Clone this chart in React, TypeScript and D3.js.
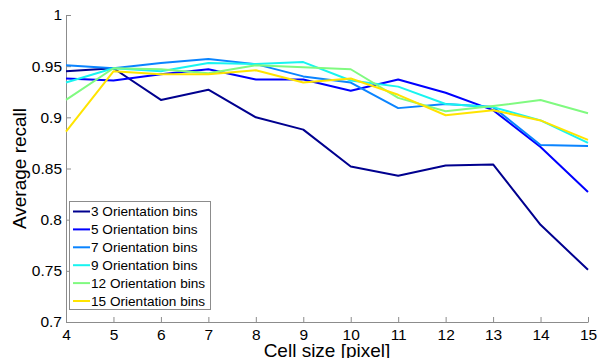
import React, { useEffect, useRef } from "react";
import * as d3 from "d3";

// cell sizes (x axis)
const cellSizes = [4, 5, 6, 7, 8, 9, 10, 11, 12, 13, 14, 15];
const yTicks = [0.7, 0.75, 0.8, 0.85, 0.9, 0.95, 1];

// average recall per orientation bin count
const bins3 = [0.945, 0.948, 0.917, 0.927, 0.9, 0.888, 0.852, 0.843, 0.853, 0.854, 0.795, 0.751];
const bins5 = [0.938, 0.936, 0.942, 0.947, 0.937, 0.937, 0.926, 0.937, 0.924, 0.907, 0.871, 0.827];
const bins7 = [0.951, 0.948, 0.953, 0.957, 0.952, 0.94, 0.934, 0.909, 0.913, 0.91, 0.873, 0.872];
const bins9 = [0.934, 0.948, 0.945, 0.953, 0.952, 0.954, 0.936, 0.93, 0.913, 0.91, 0.897, 0.875];
const bins12 = [0.917, 0.948, 0.947, 0.943, 0.951, 0.949, 0.947, 0.919, 0.906, 0.911, 0.917, 0.904];
const bins15 = [0.886, 0.945, 0.942, 0.942, 0.946, 0.934, 0.938, 0.922, 0.902, 0.907, 0.897, 0.878];

const seriesNames = [
  "3 Orientation bins",
  "5 Orientation bins",
  "7 Orientation bins",
  "9 Orientation bins",
  "12 Orientation bins",
  "15 Orientation bins",
];
const seriesColors = ["#00008f", "#0000ff", "#0a84ff", "#18f4f0", "#80fa80", "#ffe400"];
const seriesValues = [bins3, bins5, bins7, bins9, bins12, bins15];

const App = () => {
  const svgRef = useRef<SVGSVGElement>(null);

  useEffect(() => {
    const width = 599;
    const height = 358;
    const margin = { top: 15, right: 11, bottom: 37, left: 66 };
    const font = "'Liberation Sans', Arial, sans-serif";

    const svg = d3.select(svgRef.current);
    svg.selectAll("*").remove();

    const x = d3.scaleLinear().domain([4, 15]).range([margin.left, width - margin.right]);
    const y = d3.scaleLinear().domain([0.7, 1]).range([height - margin.bottom + 1, margin.top]);

    // axes (ticks pointing inward)
    const xAxis = svg
      .append("g")
      .attr("transform", `translate(0,${y(0.7)})`)
      .call(d3.axisBottom(x).tickValues(cellSizes).tickSizeInner(-5).tickSizeOuter(0).tickPadding(7).tickFormat(d3.format("d")));
    const yAxis = svg
      .append("g")
      .attr("transform", `translate(${x(4)},0)`)
      .call(
        d3
          .axisLeft(y)
          .tickValues(yTicks)
          .tickSizeInner(-5)
          .tickSizeOuter(0)
          .tickPadding(4)
          .tickFormat((d) => String(+(+d).toFixed(2)))
      );

    [xAxis, yAxis].forEach((ax) => {
      ax.select(".domain").attr("stroke", "#8c8c8c");
      ax.selectAll(".tick line").attr("stroke", "#8c8c8c");
      ax.selectAll(".tick text").attr("fill", "#000").style("font-family", font).style("font-size", "15.5px");
    });

    // lines
    const line = d3
      .line<number>()
      .x((_, i) => x(cellSizes[i]))
      .y((d) => y(d));

    svg
      .append("g")
      .selectAll("path")
      .data(seriesValues)
      .enter()
      .append("path")
      .attr("d", (d) => line(d))
      .attr("fill", "none")
      .attr("stroke", (_, i) => seriesColors[i])
      .attr("stroke-width", 2)
      .attr("stroke-linejoin", "round");

    // axis titles
    svg
      .append("text")
      .attr("x", (x(4) + x(15)) / 2)
      .attr("y", 357)
      .attr("text-anchor", "middle")
      .style("font-family", font)
      .style("font-size", "19px")
      .text("Cell size [pixel]");

    svg
      .append("text")
      .attr("transform", `translate(26,${(y(0.7) + y(1)) / 2}) rotate(-90)`)
      .attr("text-anchor", "middle")
      .style("font-family", font)
      .style("font-size", "19px")
      .text("Average recall");

    // legend
    const legend = svg.append("g").attr("transform", "translate(69,201)");
    legend
      .append("rect")
      .attr("x", 0.5)
      .attr("y", 0.5)
      .attr("width", 141)
      .attr("height", 108)
      .attr("fill", "#fff")
      .attr("stroke", "#8c8c8c");

    const items = legend
      .selectAll(".item")
      .data(seriesNames)
      .enter()
      .append("g")
      .attr("class", "item")
      .attr("transform", (_, i) => `translate(0,${10.5 + i * 17.9})`);

    items
      .append("line")
      .attr("x1", 4)
      .attr("x2", 21)
      .attr("stroke", (_, i) => seriesColors[i])
      .attr("stroke-width", 2);

    items
      .append("text")
      .attr("x", 22)
      .attr("dy", "0.36em")
      .style("font-family", font)
      .style("font-size", "13.6px")
      .text((d) => d);
  }, []);

  return (
    <svg
      ref={svgRef}
      width={599}
      height={358}
      style={{ position: "absolute", left: 0, top: 0, background: "#fff" }}
    ></svg>
  );
};

export default App;
